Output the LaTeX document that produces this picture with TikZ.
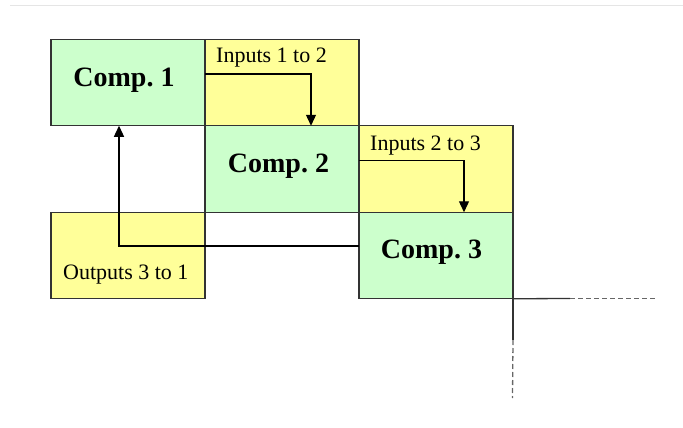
\documentclass[tikz,border=0pt]{standalone}
\usepackage{fontspec}
\setmainfont{Liberation Serif}
\usetikzlibrary{arrows.meta}
\definecolor{compgreen}{HTML}{CCFFCC}
\definecolor{inyellow}{HTML}{FFFF99}
\definecolor{edge}{HTML}{333333}
\begin{document}
\begin{tikzpicture}[x=1pt,y=-1pt,
  cell/.style={draw=edge,line width=1.3pt,minimum width=154pt,minimum height=86.5pt,inner sep=0pt,outer sep=0pt},
  comp/.style={cell,fill=compgreen},
  iface/.style={cell,fill=inyellow},
  comptext/.style={font=\fontsize{28}{30}\selectfont\bfseries,inner sep=0pt},
  iftext/.style={font=\fontsize{22}{24}\selectfont,inner sep=0pt,anchor=base west},
  conn/.style={draw=black,line width=1.3pt},
  arr/.style={conn,-{Triangle[length=11pt,width=10pt]}},
  stub/.style={draw=edge,line width=1.3pt},
  dstub/.style={draw=black!60,line width=1.3pt,dash pattern=on 5pt off 3pt}]
\useasboundingbox (0,0) rectangle (683,428);
\draw[draw=black!10,line width=1pt] (10,5.5) -- (683,5.5);
% boxes
\node[comp]  (comp1) at (128,82.5)  {};
\node[iface] (in12)  at (282,82.5)  {};
\node[comp]  (comp2) at (282,169)   {};
\node[iface] (in23)  at (436,169)   {};
\node[iface] (out31) at (128,255.5) {};
\node[comp]  (comp3) at (436,255.5) {};
% texts
\node[comptext] (t1) at (124,80) {Comp.\ 1};
\node[comptext] (t2) at (278.5,166) {Comp.\ 2};
\node[comptext] (t3) at (431.5,252) {Comp.\ 3};
\node[iftext] (l12) at (216,63) {Inputs 1 to 2};
\node[iftext] (l23) at (370,150) {Inputs 2 to 3};
\node[iftext] (l31) at (63,279) {Outputs 3 to 1};
% arrows
\draw[arr] ([yshift=8.5pt]in12.west) -| ([xshift=29pt]comp2.north);
\draw[arr] ([yshift=8.3pt]in23.west) -| ([xshift=28pt]comp3.north);
\draw[arr] ([yshift=9.5pt]comp3.west) -| ([xshift=-9pt]comp1.south);
% stubs
\coordinate (hs) at (570,298.5);
\coordinate (he) at (657,298.5);
\coordinate (vs) at (513,340);
\coordinate (ve) at (512.5,398);
\draw[stub] (comp3.south east) -- (hs);
\draw[dstub] (hs) -- (he);
\draw[stub] (comp3.south east) -- (vs);
\draw[dstub] (vs) -- (ve);
\end{tikzpicture}
\end{document}
